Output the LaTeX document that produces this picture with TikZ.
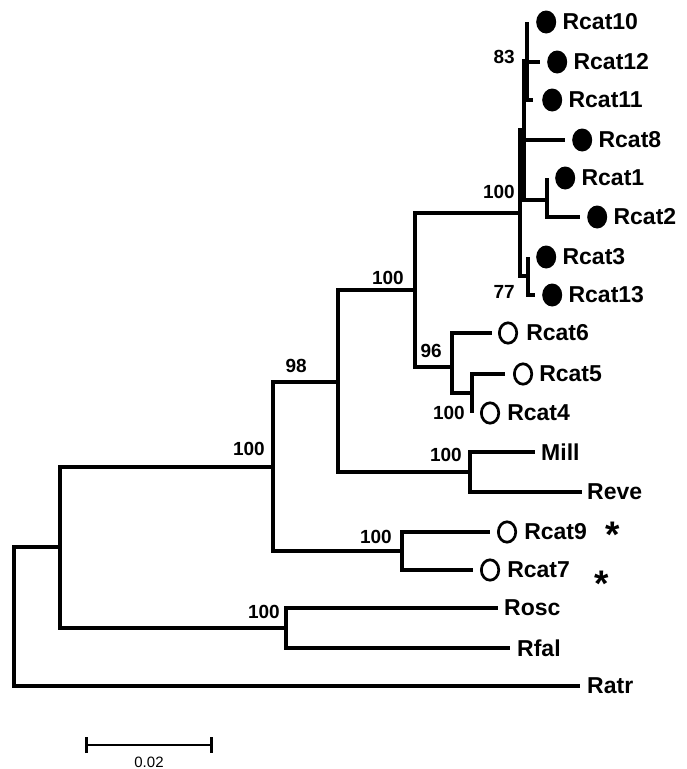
\documentclass[tikz,border=0pt]{standalone}
\usepackage{fontspec}
\setmainfont{Liberation Sans}
\usetikzlibrary{positioning, shapes.geometric, arrows.meta}

\begin{document}
\begin{tikzpicture}[x=1pt, y=-1pt,
    % Styles for the tree
    branch/.style={line width=3.9pt},
    taxon/.style={inner sep=0pt, font=\fontsize{23}{23}\selectfont\bfseries},
    support/.style={anchor=east, inner sep=0pt, font=\fontsize{19}{19}\selectfont\bfseries},
    fulldot/.style={ellipse, fill=black, inner sep=0pt, minimum width=20pt, minimum height=23pt},
    opendot/.style={ellipse, draw=black, line width=2.7pt, inner sep=0pt, minimum width=17.4pt, minimum height=20.4pt},
    flag/.style={anchor=base, inner sep=0pt, font=\fontsize{37}{37}\selectfont\bfseries},
    % Style for the scale bar
    scalebar/.style={line width=2.6pt, {Bar[width=16pt]}-{Bar[width=16pt]}}
]
    \useasboundingbox (0,0) rectangle (687,769);

    % =========================================================================
    % INTERNAL NODES
    % =========================================================================
    \coordinate (root) at (14,617);
    \coordinate (nA) at (60,547);
    \coordinate (nB) at (273,467);
    \coordinate (nL) at (286,628);
    \coordinate (nC) at (338,382);
    \coordinate (nK) at (402,551);
    \coordinate (nD) at (415,290);
    \coordinate (nM) at (470,472);
    \coordinate (nE) at (452,367);
    \coordinate (nF) at (472,393);
    \coordinate (nP) at (520,213);
    \coordinate (nH) at (524,130);
    \coordinate (nG) at (527,61);
    \coordinate (nT) at (547,200);
    \coordinate (nS) at (528,276);

    % =========================================================================
    % BRANCH TIPS
    % =========================================================================
    \coordinate (t10) at (527,22);
    \coordinate (t12) at (540,62);
    \coordinate (t11) at (533,100);
    \coordinate (t8) at (565,140);
    \coordinate (t1) at (547,178);
    \coordinate (t2) at (580,217);
    \coordinate (t3) at (528,257);
    \coordinate (t13) at (535,295);
    \coordinate (t6) at (492,333);
    \coordinate (t5) at (505,374);
    \coordinate (t4) at (472,413);
    \coordinate (tmill) at (535,452);
    \coordinate (treve) at (582,492);
    \coordinate (t9) at (490,532);
    \coordinate (t7) at (473,570);
    \coordinate (trosc) at (498,608);
    \coordinate (trfal) at (510,648);
    \coordinate (tratr) at (580,686);

    % =========================================================================
    % BRANCHES
    % =========================================================================
    \draw [branch] (root) |- (nA) (root) |- (tratr);
    \draw [branch] (nA) |- (nB) (nA) |- (nL);
    \draw [branch] (nL) |- (trosc) (nL) |- (trfal);
    \draw [branch] (nB) |- (nC) (nB) |- (nK);
    \draw [branch] (nK) |- (t9) (nK) |- (t7);
    \draw [branch] (nC) |- (nD) (nC) |- (nM);
    \draw [branch] (nM) |- (tmill) (nM) |- (treve);
    \draw [branch] (nD) |- (nP) (nD) |- (nE);
    \draw [branch] (nE) |- (t6) (nE) |- (nF);
    \draw [branch] (nF) |- (t5) (nF) |- (t4);
    \draw [branch] (nP) |- (nH) (nP) |- (nS);
    \draw [branch] (nH) |- (nG) (nH) |- (t8) (nH) |- (nT);
    \draw [branch] (nG) |- (t10) (nG) |- (t12) (nG) |- (t11);
    \draw [branch] (nT) |- (t1) (nT) |- (t2);
    \draw [branch] (nS) |- (t3) (nS) |- (t13);

    % =========================================================================
    % LEAVES - FILLED MARKERS
    % =========================================================================
    \node (d10) [fulldot, right=9pt of t10] {};
    \node (l10) [taxon, right=6pt of d10] {Rcat10};
    \node (d12) [fulldot, right=7pt of t12] {};
    \node (l12) [taxon, right=6pt of d12] {Rcat12};
    \node (d11) [fulldot, right=9pt of t11] {};
    \node (l11) [taxon, right=6pt of d11] {Rcat11};
    \node (d8) [fulldot, right=7pt of t8] {};
    \node (l8) [taxon, right=6pt of d8] {Rcat8};
    \node (d1) [fulldot, right=8pt of t1] {};
    \node (l1) [taxon, right=6pt of d1] {Rcat1};
    \node (d2) [fulldot, right=7pt of t2] {};
    \node (l2) [taxon, right=6pt of d2] {Rcat2};
    \node (d3) [fulldot, right=8pt of t3] {};
    \node (l3) [taxon, right=6pt of d3] {Rcat3};
    \node (d13) [fulldot, right=7pt of t13] {};
    \node (l13) [taxon, right=6pt of d13] {Rcat13};

    % =========================================================================
    % LEAVES - OPEN MARKERS
    % =========================================================================
    \node (d6) [opendot, right=6pt of t6] {};
    \node (l6) [taxon, right=8pt of d6] {Rcat6};
    \node (d5) [opendot, right=8pt of t5] {};
    \node (l5) [taxon, right=6pt of d5] {Rcat5};
    \node (d4) [opendot, right=8pt of t4] {};
    \node (l4) [taxon, right=7pt of d4] {Rcat4};
    \node (d9) [opendot, right=7pt of t9] {};
    \node (l9) [taxon, right=7pt of d9] {Rcat9};
    \node (d7) [opendot, right=7pt of t7] {};
    \node (l7) [taxon, right=7pt of d7] {Rcat7};
    \node (ast9) [flag] at (613,547) {*};
    \node (ast7) [flag] at (602,596) {*};

    % =========================================================================
    % LEAVES - OUTGROUPS
    % =========================================================================
    \node (lmill) [taxon, right=6pt of tmill] {Mill};
    \node (lreve) [taxon, right=5pt of treve] {Reve};
    \node (lrosc) [taxon, right=6pt of trosc] {Rosc};
    \node (lrfal) [taxon, right=7pt of trfal] {Rfal};
    \node (lratr) [taxon, right=7pt of tratr] {Ratr};

    % =========================================================================
    % BOOTSTRAP SUPPORT
    % =========================================================================
    \node (bs83) [support] at (515,57) {83};
    \node (bsP) [support] at (515,192) {100};
    \node (bs77) [support] at (515,292) {77};
    \node (bsD) [support] at (404,278) {100};
    \node (bs96) [support] at (442,351) {96};
    \node (bsF) [support] at (465,413) {100};
    \node (bsM) [support] at (462,455) {100};
    \node (bs98) [support] at (307,366) {98};
    \node (bsB) [support] at (265,449) {100};
    \node (bsK) [support] at (392,537) {100};
    \node (bsL) [support] at (280,612) {100};

    % =========================================================================
    % SCALE BAR
    % =========================================================================
    \coordinate (sbl) at (85,745);
    \coordinate (sbr) at (213,745);
    \draw [scalebar] (sbl) -- (sbr);
    \node (sbtext) [inner sep=0pt, font=\fontsize{15}{15}\selectfont] at (149,762) {0.02};

\end{tikzpicture}
\end{document}
